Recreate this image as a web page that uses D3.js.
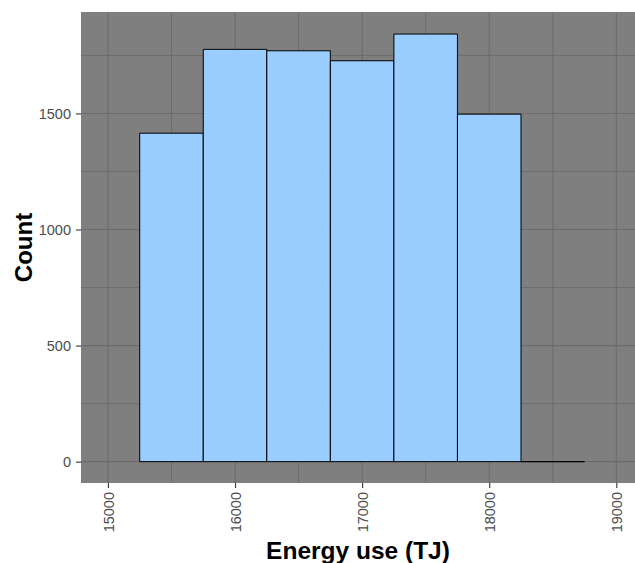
<!DOCTYPE html>
<html lang="en">
<head>
    <meta charset="UTF-8">
    <title>Energy use histogram</title>
    <style>
        body { margin: 0; background: #ffffff; }
        svg { display: block; font-family: "Liberation Sans", Arial, sans-serif; }
    </style>
</head>
<body>
    <div id="chart"></div>

    <script src="https://d3js.org/d3.v7.min.js"></script>
    <script>
        // histogram bins (TJ), width 500
        const binStarts = [15250, 15750, 16250, 16750, 17250, 17750, 18250];
        const binWidth = 500;
        const counts = [1415, 1776, 1770, 1727, 1842, 1497, 0];

        const xTicks = [15000, 16000, 17000, 18000, 19000];
        const xMinor = [15500, 16500, 17500, 18500];
        const yTicks = [0, 500, 1000, 1500];
        const yMinor = [250, 750, 1250, 1750];

        const W = 635, H = 563;
        const panel = {left: 81, right: 635, top: 12, bottom: 483};

        const svg = d3.select("#chart").append("svg")
            .attr("width", W)
            .attr("height", H);

        const x = d3.scaleLinear()
            .domain([14788, 19147])
            .range([panel.left, panel.right]);

        const y = d3.scaleLinear()
            .domain([-92, 1937])
            .range([panel.bottom, panel.top]);

        // panel background
        svg.append("rect")
            .attr("x", panel.left)
            .attr("y", panel.top)
            .attr("width", panel.right - panel.left)
            .attr("height", panel.bottom - panel.top)
            .attr("fill", "#7f7f7f");

        const grid = svg.append("g").attr("stroke", "#6b6b6b");

        // minor grid first, then major
        grid.selectAll(".xminor").data(xMinor).join("line")
            .attr("x1", d => x(d)).attr("x2", d => x(d))
            .attr("y1", panel.top).attr("y2", panel.bottom)
            .attr("stroke-width", 0.9);
        grid.selectAll(".yminor").data(yMinor).join("line")
            .attr("x1", panel.left).attr("x2", panel.right)
            .attr("y1", d => y(d)).attr("y2", d => y(d))
            .attr("stroke-width", 0.9);
        grid.selectAll(".xmajor").data(xTicks).join("line")
            .attr("x1", d => x(d)).attr("x2", d => x(d))
            .attr("y1", panel.top).attr("y2", panel.bottom)
            .attr("stroke-width", 1.1);
        grid.selectAll(".ymajor").data(yTicks).join("line")
            .attr("x1", panel.left).attr("x2", panel.right)
            .attr("y1", d => y(d)).attr("y2", d => y(d))
            .attr("stroke-width", 1.1);

        // bars as paths so a zero count still shows its outline
        const bars = binStarts.map((b, i) => ({x0: b, x1: b + binWidth, n: counts[i]}));
        svg.append("g").selectAll("path").data(bars).join("path")
            .attr("d", d => `M${x(d.x0)},${y(0)}V${y(d.n)}H${x(d.x1)}V${y(0)}Z`)
            .attr("fill", "#99ccff")
            .attr("stroke", "#000")
            .attr("stroke-width", 1);

        // y axis
        const yAxis = svg.append("g")
            .attr("transform", `translate(${panel.left},0)`)
            .call(d3.axisLeft(y).tickValues(yTicks).tickSize(5).tickPadding(5).tickFormat(d3.format("d")));
        yAxis.select(".domain").remove();
        yAxis.selectAll(".tick line").attr("stroke", "#333333").attr("stroke-width", 1.1);
        yAxis.selectAll(".tick text")
            .attr("fill", "#4d4d4d")
            .attr("font-size", "14.5px")
            .attr("font-family", "Liberation Sans, Arial, sans-serif");

        // x axis, labels rotated
        const xAxis = svg.append("g")
            .attr("transform", `translate(0,${panel.bottom})`)
            .call(d3.axisBottom(x).tickValues(xTicks).tickSize(5).tickFormat(d3.format("d")));
        xAxis.select(".domain").remove();
        xAxis.selectAll(".tick line").attr("stroke", "#333333").attr("stroke-width", 1.1);
        xAxis.selectAll(".tick text")
            .attr("fill", "#4d4d4d")
            .attr("font-size", "14.5px")
            .attr("font-family", "Liberation Sans, Arial, sans-serif")
            .attr("transform", "rotate(-90)")
            .attr("text-anchor", "end")
            .attr("x", -9)
            .attr("y", 0)
            .attr("dy", "0.35em");

        // axis titles
        svg.append("text")
            .attr("x", (panel.left + panel.right) / 2)
            .attr("y", 559)
            .attr("text-anchor", "middle")
            .attr("font-size", "24.5px")
            .attr("font-weight", "bold")
            .attr("fill", "#000")
            .text("Energy use (TJ)");

        svg.append("text")
            .attr("transform", `translate(32,${(panel.top + panel.bottom) / 2}) rotate(-90)`)
            .attr("text-anchor", "middle")
            .attr("font-size", "24px")
            .attr("font-weight", "bold")
            .attr("fill", "#000")
            .text("Count");
    </script>
</body>
</html>
